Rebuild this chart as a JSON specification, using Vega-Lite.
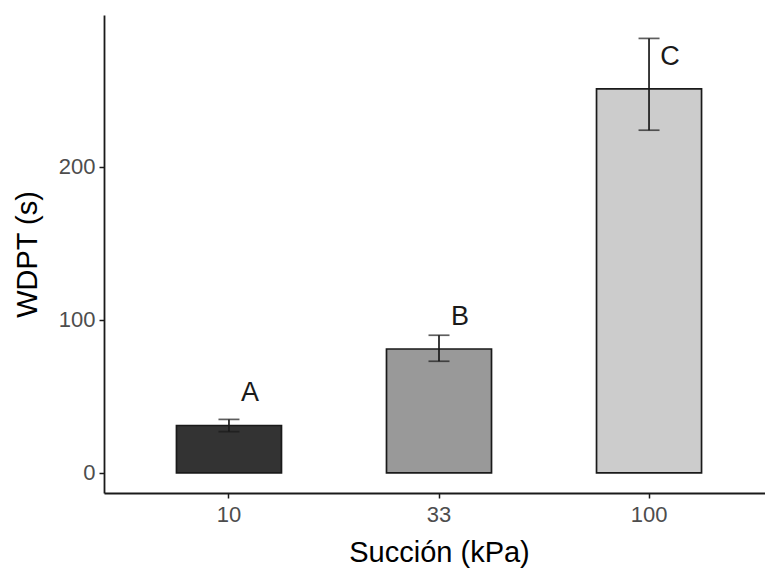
{
  "$schema": "https://vega.github.io/schema/vega-lite/v6.json",
  "width": 661,
  "height": 478,
  "autosize": {"type": "none"},
  "padding": {"left": 104, "top": 15, "right": 0, "bottom": 79},
  "background": "white",
  "config": {
    "font": "Liberation Sans",
    "view": {"stroke": null},
    "axis": {
      "domainColor": "#1a1a1a",
      "domainWidth": 1.8,
      "tickColor": "#1a1a1a",
      "tickWidth": 1.5,
      "tickSize": 5,
      "grid": false,
      "labelColor": "#4D4D4D",
      "labelFontSize": 22,
      "labelFont": "Liberation Sans",
      "titleFont": "Liberation Sans",
      "titleFontSize": 29,
      "titleFontWeight": "normal",
      "titleColor": "#000000"
    }
  },
  "data": {
    "values": [
      {"s": "10", "mean": 31, "lower": 27, "upper": 35, "lab": "A", "laby": 52},
      {"s": "33", "mean": 81, "lower": 73, "upper": 90, "lab": "B", "laby": 102},
      {"s": "100", "mean": 251, "lower": 224, "upper": 284, "lab": "C", "laby": 272}
    ]
  },
  "encoding": {
    "x": {
      "field": "s",
      "type": "nominal",
      "sort": ["10", "33", "100"],
      "scale": {"domain": ["10", "33", "100"], "range": [0, 670], "paddingInner": 0.5, "paddingOuter": 0.345},
      "axis": {"title": "Succión (kPa)", "labelAngle": 0, "labelPadding": 6, "titlePadding": 13}
    }
  },
  "layer": [
    {
      "mark": {"type": "bar", "stroke": "#1a1a1a", "strokeWidth": 1.7},
      "encoding": {
        "y": {
          "field": "mean",
          "type": "quantitative",
          "scale": {"domain": [-13.1, 299.3], "nice": false, "zero": false},
          "axis": {"title": "WDPT (s)", "values": [0, 100, 200], "labelPadding": 4, "titlePadding": 16}
        },
        "fill": {
          "field": "s",
          "type": "nominal",
          "scale": {"domain": ["10", "33", "100"], "range": ["#333333", "#999999", "#CCCCCC"]},
          "legend": null
        }
      }
    },
    {
      "mark": {"type": "rule", "color": "#1a1a1a", "strokeWidth": 1.7},
      "encoding": {
        "y": {"field": "lower", "type": "quantitative"},
        "y2": {"field": "upper"}
      }
    },
    {
      "mark": {"type": "tick", "color": "#1a1a1a", "size": 21, "thickness": 1.7},
      "encoding": {"y": {"field": "lower", "type": "quantitative"}}
    },
    {
      "mark": {"type": "tick", "color": "#1a1a1a", "size": 21, "thickness": 1.7},
      "encoding": {"y": {"field": "upper", "type": "quantitative"}}
    },
    {
      "mark": {"type": "text", "dx": 21, "fontSize": 27, "color": "#1a1a1a", "align": "center", "baseline": "middle", "font": "Liberation Sans"},
      "encoding": {
        "y": {"field": "laby", "type": "quantitative"},
        "text": {"field": "lab"}
      }
    }
  ]
}
